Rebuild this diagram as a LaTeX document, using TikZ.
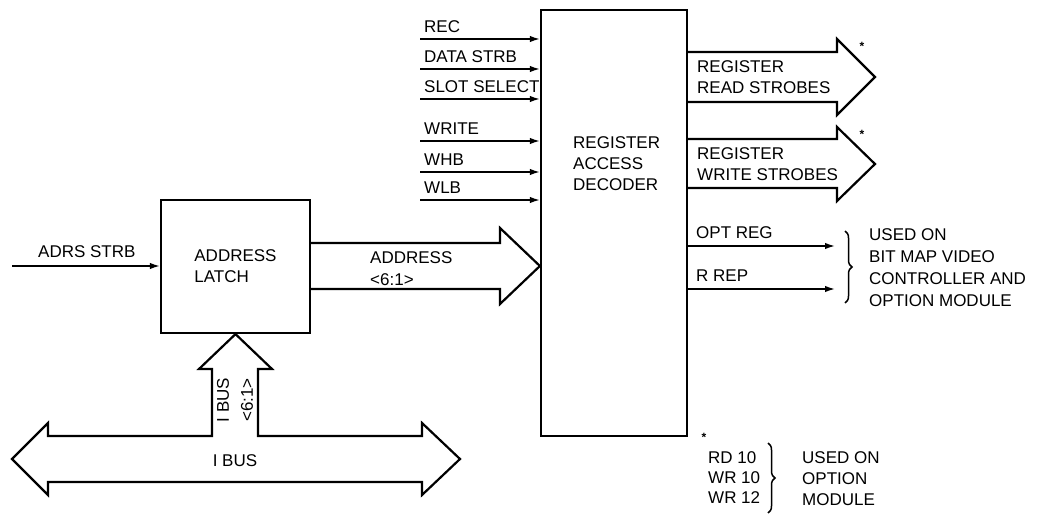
\documentclass[tikz,border=0pt]{standalone}
\usepackage{fontspec}
\setmainfont{Liberation Sans}
\usetikzlibrary{arrows.meta,decorations.pathreplacing}
\begin{document}
\begin{tikzpicture}[x=1pt,y=-1pt,
  every node/.style={font=\fontsize{17}{21}\selectfont, inner sep=0pt},
  box/.style={draw, line width=2.2pt},
  sig/.style={line width=1.6pt, -{Latex[length=10pt,width=6.5pt]}},
  bus/.style={draw, line width=2.2pt, line join=miter},
  lbl/.style={anchor=west, align=left},
  brc/.style={decorate, decoration={brace, amplitude=7pt}, line width=1.5pt},
  star/.style={font=\fontsize{12}{12}\selectfont\bfseries}]
\useasboundingbox (0,0) rectangle (1044,516);

% blocks
\node[box, minimum width=149pt, minimum height=133pt, align=left] (latch) at (235.5,266.5) {ADDRESS\\LATCH};
\node[box, minimum width=146pt, minimum height=426pt] (dec) at (614,223) {};
\node[lbl] (dectext) at (573,164) {REGISTER\\ACCESS\\DECODER};

% decoder inputs
\foreach \y/\t/\n in {39/REC/a, 69/DATA STRB/b, 99/SLOT SELECT/c, 141/WRITE/d, 172/WHB/e, 200/WLB/f}{
  \coordinate (in\n) at (420,\y);
  \draw[sig] (in\n) -- (in\n -| dec.west);
  \node[lbl] (l\n) at (424,{\y-12}) {\t};
}

% address strobe
\coordinate (adrs) at (12,266);
\draw[sig] (adrs) -- (adrs -| latch.west);
\node[lbl] (ladrs) at (38,252) {ADRS STRB};

% address bus
\draw[bus] (latch.east |- 0,243) -- (500,243) -- (500,228) -- (dec.west |- 0,266) -- (500,304) -- (500,289) -- (latch.east |- 0,289);
\node[lbl, font=\fontsize{17}{22}\selectfont] (laddr) at (370,269) {ADDRESS\\<6:1>};

% read strobes bus
\draw[bus] (dec.east |- 0,52) -- (837,52) -- (837,39) -- (875,77) -- (837,115) -- (837,102) -- (dec.east |- 0,102);
\node[lbl] (lread) at (697,77) {REGISTER\\READ STROBES};
\node[star] (s1) at (862,46) {*};

% write strobes bus
\draw[bus] (dec.east |- 0,139) -- (837,139) -- (837,127) -- (875,164) -- (837,201) -- (837,188) -- (dec.east |- 0,188);
\node[lbl] (lwrite) at (697,164) {REGISTER\\WRITE STROBES};
\node[star] (s2) at (862,134) {*};

% OPT REG / R REP
\coordinate (opt) at (835,246);
\draw[sig] (opt -| dec.east) -- (opt);
\node[lbl] (lopt) at (696,233) {OPT REG};
\coordinate (rrep) at (835,289);
\draw[sig] (rrep -| dec.east) -- (rrep);
\node[lbl] (lrrep) at (696,276) {R REP};
\draw[brc] (845,231) -- (845,303);
\node[lbl, font=\fontsize{17}{22}\selectfont] (lused1) at (869,268) {USED ON\\BIT MAP VIDEO\\CONTROLLER AND\\OPTION MODULE};

% I BUS
\draw[bus] (12,459) -- (48,423) -- (48,436) -- (212,436) -- (212,369) -- (199,369) -- (latch.south) -- (272,369) -- (258,369) -- (258,436) -- (422,436) -- (422,423) -- (460,459) -- (422,495) -- (422,482) -- (48,482) -- (48,495) -- cycle;
\node (libus) at (235,461) {I BUS};
\node[rotate=90, align=center, font=\fontsize{17}{24}\selectfont] (libusv) at (235,400) {I BUS\\<6:1>};

% footnote
\node[star] (s3) at (704,437) {*};
\node[lbl, font=\fontsize{17}{20}\selectfont] (lrd) at (708,478) {RD 10\\WR 10\\WR 12};
\draw[brc] (768,443) -- (768,513);
\node[lbl, font=\fontsize{17}{21}\selectfont] (lused2) at (802,479) {USED ON\\OPTION\\MODULE};
\end{tikzpicture}
\end{document}
